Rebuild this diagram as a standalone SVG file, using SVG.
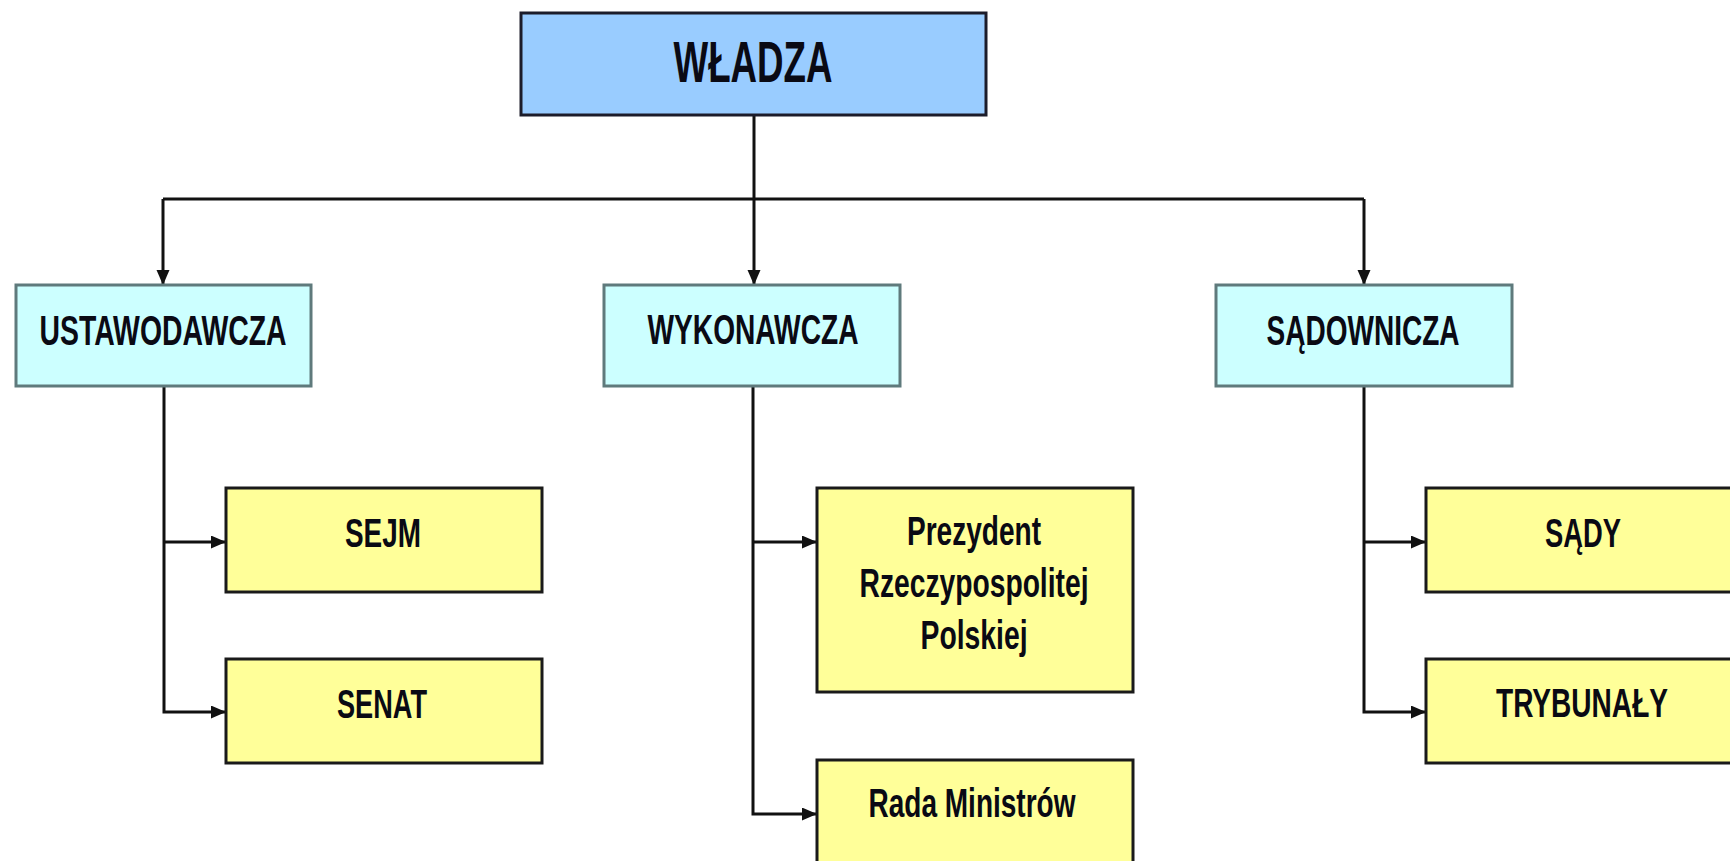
<svg xmlns="http://www.w3.org/2000/svg" width="1730" height="861" viewBox="0 0 1730 861">
<style>
  .top { fill: #99CCFF; stroke: #1c1c2a; stroke-width: 3; }
  .mid { fill: #CCFFFF; stroke: #5f7a7c; stroke-width: 3; }
  .leaf { fill: #FFFF99; stroke: #1a1a1a; stroke-width: 3; }
  text { font-family: "Liberation Sans", Arial, sans-serif; font-weight: bold; fill: #0a0a14; text-anchor: middle; }
  .t1 { font-size: 58px; }
  .t2 { font-size: 43px; }
  .t3 { font-size: 40px; }
  .conn { fill: none; stroke: #111; stroke-width: 3; }
</style>
<defs>
  <marker id="arr" markerUnits="userSpaceOnUse" markerWidth="16" markerHeight="14" refX="15" refY="6.5" orient="auto">
    <path d="M0,0 L15,6.5 L0,13 z" fill="#111"/>
  </marker>
</defs>
<rect width="1730" height="861" fill="#ffffff"/>
<g id="connectors">
  <path class="conn" d="M754,115 V199"/>
  <path class="conn" d="M163,199 H1364"/>
  <path class="conn" d="M163,199 V285" marker-end="url(#arr)"/>
  <path class="conn" d="M754,199 V285" marker-end="url(#arr)"/>
  <path class="conn" d="M1364,199 V285" marker-end="url(#arr)"/>
  <path class="conn" d="M164,386 V712 H226" marker-end="url(#arr)"/>
  <path class="conn" d="M164,542 H226" marker-end="url(#arr)"/>
  <path class="conn" d="M753,386 V814 H817" marker-end="url(#arr)"/>
  <path class="conn" d="M753,542 H817" marker-end="url(#arr)"/>
  <path class="conn" d="M1364,386 V712 H1426" marker-end="url(#arr)"/>
  <path class="conn" d="M1364,542 H1426" marker-end="url(#arr)"/>
</g>
<g id="wladza">
  <rect class="top" x="521" y="13" width="465" height="102"/>
  <text class="t1" x="753" y="82" textLength="159" lengthAdjust="spacingAndGlyphs">WŁADZA</text>
</g>
<g id="ustawodawcza">
  <rect class="mid" x="16" y="285" width="295" height="101"/>
  <text class="t2" x="163" y="345" textLength="247" lengthAdjust="spacingAndGlyphs">USTAWODAWCZA</text>
</g>
<g id="wykonawcza">
  <rect class="mid" x="604" y="285" width="296" height="101"/>
  <text class="t2" x="753" y="344" textLength="211" lengthAdjust="spacingAndGlyphs">WYKONAWCZA</text>
</g>
<g id="sadownicza">
  <rect class="mid" x="1216" y="285" width="296" height="101"/>
  <text class="t2" x="1363" y="345" textLength="193" lengthAdjust="spacingAndGlyphs">SĄDOWNICZA</text>
</g>
<g id="sejm">
  <rect class="leaf" x="226" y="488" width="316" height="104"/>
  <text class="t3" x="383" y="547" textLength="76" lengthAdjust="spacingAndGlyphs">SEJM</text>
</g>
<g id="senat">
  <rect class="leaf" x="226" y="659" width="316" height="104"/>
  <text class="t3" x="382" y="718" textLength="90" lengthAdjust="spacingAndGlyphs">SENAT</text>
</g>
<g id="prezydent">
  <rect class="leaf" x="817" y="488" width="316" height="204"/>
  <text class="t3" x="974" y="545" textLength="134" lengthAdjust="spacingAndGlyphs">Prezydent</text>
  <text class="t3" x="974" y="597" textLength="229" lengthAdjust="spacingAndGlyphs">Rzeczypospolitej</text>
  <text class="t3" x="974" y="649" textLength="107" lengthAdjust="spacingAndGlyphs">Polskiej</text>
</g>
<g id="rada">
  <rect class="leaf" x="817" y="760" width="316" height="110"/>
  <text class="t3" x="972" y="817" textLength="207" lengthAdjust="spacingAndGlyphs">Rada Ministrów</text>
</g>
<g id="sady">
  <rect class="leaf" x="1426" y="488" width="316" height="104"/>
  <text class="t3" x="1583" y="547" textLength="76" lengthAdjust="spacingAndGlyphs">SĄDY</text>
</g>
<g id="trybunaly">
  <rect class="leaf" x="1426" y="659" width="316" height="104"/>
  <text class="t3" x="1582" y="717" textLength="172" lengthAdjust="spacingAndGlyphs">TRYBUNAŁY</text>
</g>
</svg>
